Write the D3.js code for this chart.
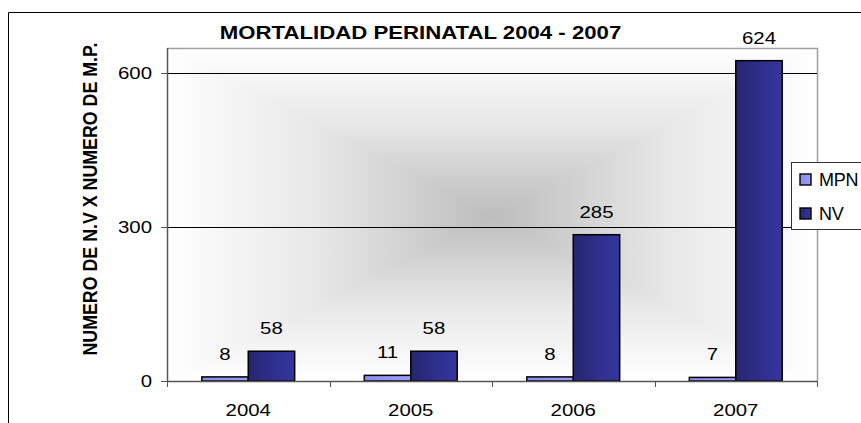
<!DOCTYPE html>
<html>
<head>
<meta charset="utf-8">
<script src="https://cdn.jsdelivr.net/npm/d3@7"></script>
<style>
  html, body { margin: 0; padding: 0; background: #fff; }
  svg { display: block; font-family: "Liberation Sans", Arial, sans-serif; }
</style>
</head>
<body>
<div id="chart"></div>
<script>
const categories = ["2004", "2005", "2006", "2007"];
const seriesNames = ["MPN", "NV"];
const mpnValues = [8, 11, 8, 7];
const nvValues = [58, 58, 285, 624];
const yTickValues = [0, 300, 600];
const titleText = "MORTALIDAD PERINATAL 2004 - 2007";
const yAxisTitle = "NUMERO DE N.V X NUMERO DE M.P.";

const W = 861, H = 423;
const plot = { left: 167, right: 817, top: 48, bottom: 381 };
const STRETCH = 1.2;

const svg = d3.select("#chart").append("svg").attr("width", W).attr("height", H);
const defs = svg.append("defs");

// Outer chart border (left + top only visible)
svg.append("path").attr("d", `M8.5,${H} L8.5,12.5 L${W},12.5`)
  .attr("fill", "none").attr("stroke", "#000").attr("stroke-width", 1);

// Plot background: rectangular "from center" gradient via 4 triangles
const cx = (plot.left + plot.right) / 2, cy = (plot.top + plot.bottom) / 2;
function grad(id, x1, y1, x2, y2) {
  const g = defs.append("linearGradient").attr("id", id)
    .attr("gradientUnits", "userSpaceOnUse")
    .attr("x1", x1).attr("y1", y1).attr("x2", x2).attr("y2", y2);
  g.append("stop").attr("offset", "0").attr("stop-color", "#ffffff");
  g.append("stop").attr("offset", "0.45").attr("stop-color", "#e8e8e8");
  g.append("stop").attr("offset", "1").attr("stop-color", "#bdbdbd");
}
grad("gT", cx, plot.top, cx, cy);
grad("gB", cx, plot.bottom, cx, cy);
grad("gL", plot.left, cy, cx, cy);
grad("gR", plot.right, cy, cx, cy);
const L = plot.left, R = plot.right, T = plot.top, B = plot.bottom;
const tri = [
  ["gT", [[L, T], [R, T], [cx, cy]]],
  ["gB", [[L, B], [R, B], [cx, cy]]],
  ["gL", [[L, T], [L, B], [cx, cy]]],
  ["gR", [[R, T], [R, B], [cx, cy]]]
];
svg.append("g").selectAll("path").data(tri).join("path")
  .attr("d", d => "M" + d[1].map(p => p.join(",")).join("L") + "Z")
  .attr("fill", d => `url(#${d[0]})`)
  .attr("stroke", d => `url(#${d[0]})`).attr("stroke-width", 0.6);

// plot border (top & right, gray)
svg.append("path").attr("d", `M${L},${T + 0.5} L${R + 0.5},${T + 0.5} L${R + 0.5},${B}`)
  .attr("fill", "none").attr("stroke", "#a0a0a0").attr("stroke-width", 1.5);

// Scales
const x0 = d3.scaleBand().domain(categories).range([plot.left, plot.right]).padding(0);
const x1 = d3.scaleBand().domain(seriesNames).range([0, x0.bandwidth()])
  .paddingInner(0).paddingOuter(0.75);
const y = d3.scaleLinear().domain([0, 600]).range([plot.bottom, 73]);

// Gridlines
svg.append("g").selectAll("line").data(yTickValues.filter(v => v > 0)).join("line")
  .attr("x1", plot.left).attr("x2", plot.right)
  .attr("y1", d => Math.round(y(d)) + 0.5).attr("y2", d => Math.round(y(d)) + 0.5)
  .attr("stroke", "#000").attr("stroke-width", 1);

// Bar gradients
const gNV = defs.append("linearGradient").attr("id", "barNV").attr("x1", 0).attr("x2", 1).attr("y1", 0).attr("y2", 0);
gNV.append("stop").attr("offset", 0).attr("stop-color", "#25256f");
gNV.append("stop").attr("offset", 0.6).attr("stop-color", "#303090");
gNV.append("stop").attr("offset", 1).attr("stop-color", "#35359c");
const gM = defs.append("linearGradient").attr("id", "barMPN").attr("x1", 0).attr("x2", 1).attr("y1", 0).attr("y2", 0);
gM.append("stop").attr("offset", 0).attr("stop-color", "#8c8cee");
gM.append("stop").attr("offset", 1).attr("stop-color", "#9c9cff");
const fills = { MPN: "url(#barMPN)", NV: "url(#barNV)" };

const rows = categories.map((c, i) => ({ cat: c, vals: [
  { s: "MPN", v: mpnValues[i] }, { s: "NV", v: nvValues[i] }] }));

const groups = svg.append("g").selectAll("g").data(rows).join("g")
  .attr("transform", d => `translate(${x0(d.cat)},0)`);
groups.selectAll("rect").data(d => d.vals).join("rect")
  .attr("x", d => x1(d.s)).attr("width", x1.bandwidth())
  .attr("y", d => y(d.v)).attr("height", d => y(0) - y(d.v))
  .attr("fill", d => fills[d.s]).attr("stroke", "#000").attr("stroke-width", 1.5);

// value labels
groups.selectAll("text").data(d => d.vals).join("text")
  .attr("transform", d => `translate(${x1(d.s) + x1.bandwidth() / 2},${y(d.v) - 17}) scale(${STRETCH},1)`)
  .attr("text-anchor", "middle").attr("font-size", 17).attr("fill", "#000")
  .text(d => d.v);

// Axes lines
svg.append("line").attr("x1", plot.left + 0.5).attr("x2", plot.left + 0.5)
  .attr("y1", plot.top).attr("y2", plot.bottom)
  .attr("stroke", "#555").attr("stroke-width", 1.5);
svg.append("line").attr("x1", plot.left).attr("x2", plot.right + 1)
  .attr("y1", plot.bottom + 0.5).attr("y2", plot.bottom + 0.5)
  .attr("stroke", "#555").attr("stroke-width", 1.5);

// Y ticks & labels
const yt = svg.append("g").selectAll("g").data(yTickValues).join("g");
yt.append("line").attr("x1", plot.left - 6).attr("x2", plot.left)
  .attr("y1", d => Math.round(y(d)) + 0.5).attr("y2", d => Math.round(y(d)) + 0.5)
  .attr("stroke", "#555").attr("stroke-width", 1);
yt.append("text")
  .attr("transform", d => `translate(152,${y(d) + 6}) scale(${STRETCH},1)`)
  .attr("text-anchor", "end").attr("font-size", 17).attr("fill", "#000")
  .text(d => d);

// X ticks (category boundaries) & labels
const bounds = categories.map(c => x0(c)).concat([x0(categories[categories.length - 1]) + x0.bandwidth()]);
svg.append("g").selectAll("line").data(bounds).join("line")
  .attr("x1", d => Math.round(d) + 0.5).attr("x2", d => Math.round(d) + 0.5)
  .attr("y1", plot.bottom).attr("y2", plot.bottom + 6)
  .attr("stroke", "#555").attr("stroke-width", 1);
svg.append("g").selectAll("text").data(categories).join("text")
  .attr("transform", d => `translate(${x0(d) + x0.bandwidth() / 2},416) scale(${STRETCH},1)`)
  .attr("text-anchor", "middle").attr("font-size", 17).attr("fill", "#000")
  .text(d => d);

// Title
svg.append("text")
  .attr("transform", `translate(420.5,39) scale(${STRETCH},1)`)
  .attr("text-anchor", "middle").attr("font-size", 18.5).attr("font-weight", "bold")
  .attr("fill", "#000").text(titleText);

// Y axis title
svg.append("text")
  .attr("transform", `translate(97,199) scale(1.1,1) rotate(-90)`)
  .attr("text-anchor", "middle").attr("font-size", 17.8).attr("font-weight", "bold")
  .attr("fill", "#000").text(yAxisTitle);

// Legend
const lg = svg.append("g");
lg.append("rect").attr("x", 791.5).attr("y", 162.5).attr("width", 80).attr("height", 67)
  .attr("fill", "#fff").attr("stroke", "#333").attr("stroke-width", 1);
const li = lg.selectAll("g").data(seriesNames).join("g")
  .attr("transform", (d, i) => `translate(0,${i * 34})`);
li.append("rect").attr("x", 800).attr("y", 174).attr("width", 11).attr("height", 11)
  .attr("fill", d => fills[d]).attr("stroke", "#000").attr("stroke-width", 1.4);
li.append("text").attr("x", 819).attr("y", 185.5)
  .attr("font-size", 18).attr("letter-spacing", -0.3).attr("fill", "#000")
  .text(d => d);
</script>
</body>
</html>
